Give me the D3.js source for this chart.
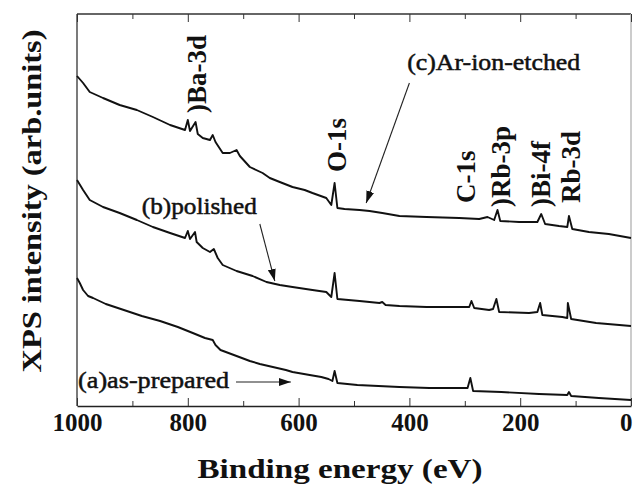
<!DOCTYPE html>
<meta charset="utf-8">
<style>
	body { margin: 0; background: #fff; }
	text { font-family: "Liberation Serif", "Times New Roman", serif; fill: #111; }
	.spectrum { fill: none; stroke: #111; stroke-width: 1.9px; stroke-linejoin: round; }
	.tick-label { font-size: 25px; font-weight: bold; }
	.axis-title { font-weight: bold; }
	.peak { font-size: 27px; font-weight: bold; }
	.curve-label { font-size: 23px; stroke: #111; stroke-width: 0.5px; }
</style>
<svg id="xps" width="634" height="492"></svg>
<script src="https://d3js.org/d3.v7.min.js"></script>
<script>
	// binding energy (eV) and intensity (arb. units)
	var etchedEnergy = [1000,989,977,953,923,892,863,832,805,800,796,786,782,773,760,755,750,737,724,712,706,688,665,652,634,611,589,575,550,541,535,530,517,490,472,449,418,369,310,274,259,247,241,236,202,169,162,155,130,115,112,106,76,40,0];
	var etchedCounts = [330,323,314,308,301,296,289,281,276,286,275,284,272,268,266,271,264,253,253,256,250,239,233,228,224,219,216,213,208,201,223,198,197,196,195,193,190,189,188,187,189,186,196,185,184,184,192,182,180,179,190,177,174,172,168];

	var polishedEnergy = [1000,989,977,953,923,892,863,832,805,800,796,787,784,773,760,753,746,737,712,683,658,634,611,575,550,541,535,530,490,454,449,443,418,369,310,292,288,283,256,249,243,238,184,169,164,160,124,115,114,108,63,0];
	var polishedCounts = [226,216,206,199,193,186,179,173,168,175,167,174,164,158,154,157,148,141,135,130,124,121,119,116,114,109,133,107,105,103,104,101,100,99,99,99,105,98,96,97,107,94,93,94,103,91,89,88,103,87,83,80];

	var preparedEnergy = [1000,995,989,980,971,948,910,883,850,818,791,769,755,750,741,712,688,670,623,611,580,559,546,539,535,530,494,418,364,295,290,285,234,166,115,112,108,58,0];
	var preparedCounts = [128,123,116,110,108,102,95,90,85,79,73,68,66,61,56,50,45,42,36,34,31,29,27,25,35,23,21,19,18,18,28,15,14,12,11,14,10,8,6];

	var majorTicks = [1000,800,600,400,200,0];
	var minorTicks = [900,700,500,300,100];

	var peakNames = [")Ba-3d","O-1s","C-1s",")Rb-3p",")Bi-4f","Rb-3d"];
	var peakEnergies = [785,532,298,236,164,110];

	var curveNames = ["(c)Ar-ion-etched","(b)polished","(a)as-prepared"];

	var svg = d3.select("#xps"),
		margin = {top: 14, right: 3, bottom: 86, left: 77},
		width = +svg.attr("width") - margin.left - margin.right,
		height = +svg.attr("height") - margin.top - margin.bottom,
		g = svg.append("g").attr("transform", "translate(" + margin.left + "," + margin.top + ")");

	var x = d3.scaleLinear().domain([1000, 0]).range([0, width]),
		y = d3.scaleLinear().domain([0, 392]).range([height, 0]);

	var line = d3.line()
		.x(function(d) { return x(d[0]); })
		.y(function(d) { return y(d[1]); });

	var spectra = [
		d3.zip(etchedEnergy, etchedCounts),
		d3.zip(polishedEnergy, polishedCounts),
		d3.zip(preparedEnergy, preparedCounts)
	];

	// frame
	g.append("line").attr("x1", 0).attr("x2", width).attr("y1", 0).attr("y2", 0)
		.attr("stroke", "#333").attr("stroke-width", 1.3);
	g.append("line").attr("x1", 0).attr("x2", 0).attr("y1", 0).attr("y2", height)
		.attr("stroke", "#333").attr("stroke-width", 1.3);
	g.append("line").attr("x1", width).attr("x2", width).attr("y1", 0).attr("y2", height)
		.attr("stroke", "#bbb").attr("stroke-width", 1.5);

	var xAxis = g.append("g")
		.attr("transform", "translate(0," + height + ")")
		.call(d3.axisBottom(x).tickValues(majorTicks).tickFormat(d3.format("d"))
			.tickSizeInner(-8).tickSizeOuter(0).tickPadding(7));
	xAxis.attr("font-size", null).attr("font-family", null);
	xAxis.select(".domain").attr("stroke", "#222").attr("stroke-width", 1.6);
	xAxis.selectAll(".tick line").attr("stroke", "#333");
	xAxis.selectAll(".tick text").attr("class", "tick-label").attr("fill", "#111")
		.attr("text-anchor", function(d) { return d === 0 ? "end" : "middle"; })
		.attr("dx", function(d) { return d === 0 ? 1 : 0; });

	g.append("g")
		.attr("transform", "translate(0," + height + ")")
		.call(d3.axisBottom(x).tickValues(minorTicks).tickSize(-5).tickFormat(""))
		.call(function(a) { a.select(".domain").remove(); a.selectAll("line").attr("stroke", "#333"); });

	g.append("g")
		.call(d3.axisTop(x).tickValues(majorTicks).tickSize(-8).tickFormat(""))
		.call(function(a) { a.select(".domain").remove(); a.selectAll("line").attr("stroke", "#333"); });
	g.append("g")
		.call(d3.axisTop(x).tickValues(minorTicks).tickSize(-5).tickFormat(""))
		.call(function(a) { a.select(".domain").remove(); a.selectAll("line").attr("stroke", "#333"); });

	g.selectAll(".spectrum")
		.data(spectra)
		.enter().append("path")
		.attr("class", "spectrum")
		.attr("d", line);

	// peak labels, rotated
	var peakBase = [293, 234, 203, 199, 199, 203];
	g.selectAll(".peak")
		.data(peakNames)
		.enter().append("text")
		.attr("class", "peak")
		.attr("transform", function(d, i) { return "translate(" + x(peakEnergies[i]) + "," + y(peakBase[i]) + ")rotate(-90)"; })
		.attr("dy", "0.35em")
		.text(function(d) { return d; });

	// curve labels and arrows
	var labelPos = [[404, 336], [883, 192], [998, 18]];
	var labelLen = [173, 115, 151];
	var arrows = [[[400, 323], [478, 203]], [[670, 182], [643, 125]], [[713, 24], [614, 24]]];

	svg.append("defs").append("marker")
		.attr("id", "head")
		.attr("viewBox", "0 0 12 8")
		.attr("refX", 12).attr("refY", 4)
		.attr("markerWidth", 12).attr("markerHeight", 8)
		.attr("markerUnits", "userSpaceOnUse")
		.attr("orient", "auto")
		.append("path").attr("d", "M0,0L12,4L0,8Z").attr("fill", "#111");

	g.selectAll(".curve-label")
		.data(curveNames)
		.enter().append("text")
		.attr("class", "curve-label")
		.attr("x", function(d, i) { return x(labelPos[i][0]); })
		.attr("y", function(d, i) { return y(labelPos[i][1]); })
		.attr("textLength", function(d, i) { return labelLen[i]; })
		.attr("lengthAdjust", "spacingAndGlyphs")
		.text(function(d) { return d; });

	g.selectAll(".arrow")
		.data(arrows)
		.enter().append("line")
		.attr("class", "arrow")
		.attr("x1", function(d) { return x(d[0][0]); })
		.attr("y1", function(d) { return y(d[0][1]); })
		.attr("x2", function(d) { return x(d[1][0]); })
		.attr("y2", function(d) { return y(d[1][1]); })
		.attr("stroke", "#222").attr("stroke-width", 1.1)
		.attr("marker-end", "url(#head)");

	svg.append("text")
		.attr("class", "axis-title")
		.attr("x", 340).attr("y", 478)
		.attr("text-anchor", "middle")
		.attr("textLength", 285).attr("lengthAdjust", "spacingAndGlyphs")
		.style("font-size", "27px")
		.text("Binding energy (eV)");

	svg.append("text")
		.attr("class", "axis-title")
		.attr("transform", "translate(32,201)rotate(-90)")
		.attr("text-anchor", "middle")
		.attr("dy", "0.35em")
		.attr("textLength", 343).attr("lengthAdjust", "spacingAndGlyphs")
		.style("font-size", "27px")
		.text("XPS intensity (arb.units)");
</script>
